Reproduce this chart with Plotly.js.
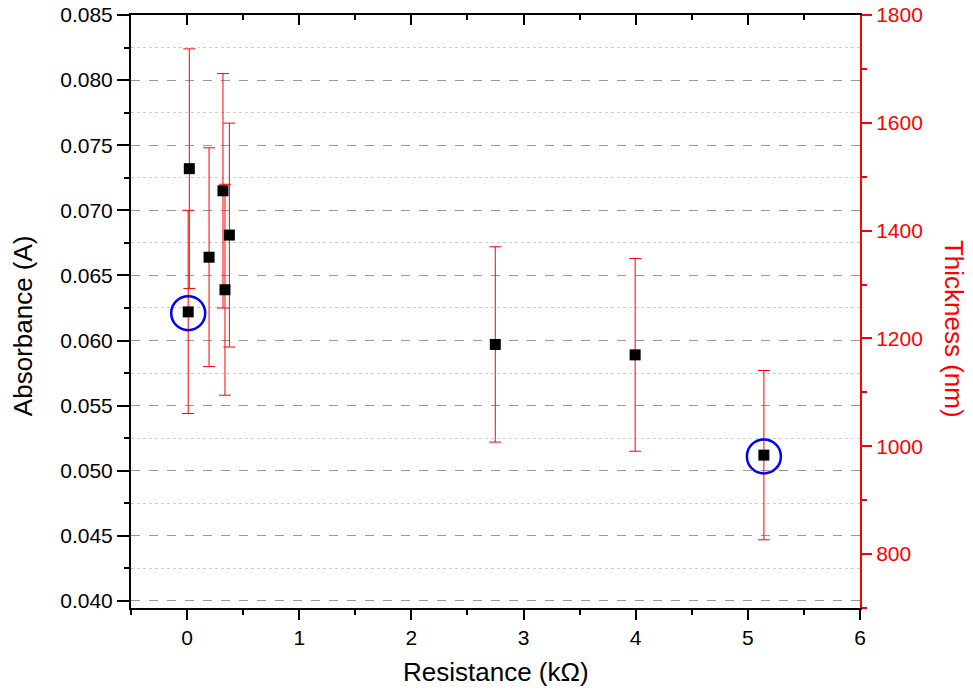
<!DOCTYPE html>
<html>
<head>
<meta charset="utf-8">
<script src="https://cdn.plot.ly/plotly-3.0.1.min.js"></script>
<style>html,body{margin:0;padding:0;background:#fff}#chart{width:973px;height:698px}</style>
</head>
<body>
<div id="chart"></div>
<script>
// Data
var resistance = [0.02, 0.01, 0.196, 0.32, 0.338, 0.377, 2.748, 3.995, 5.143];
var absorbance = [0.0732, 0.0622, 0.0664, 0.0715, 0.0639, 0.0681, 0.0597, 0.0589, 0.0512];
var absorbanceErr = [0.0092, 0.0078, 0.0084, 0.0090, 0.0081, 0.0086, 0.0075, 0.0074, 0.0065];
var highlightX = [0.01, 5.143];
var highlightY = [0.0621, 0.0511];
var xTitle = 'Resistance (kΩ)';
var yTitle = 'Absorbance (A)';
var y2Title = 'Thickness (nm)';

var FONT = 'Liberation Sans, Arial, sans-serif';

var traces = [
  {
    x: resistance, y: absorbance, type: 'scatter', mode: 'markers',
    marker: {symbol: 'square', size: 11, color: '#000'},
    error_y: {type: 'data', array: absorbanceErr, visible: true, color: '#ff0000', thickness: 1, width: 6},
    xaxis: 'x', yaxis: 'y', showlegend: false, hoverinfo: 'skip'
  },
  {
    x: highlightX, y: highlightY, type: 'scatter', mode: 'markers',
    marker: {symbol: 'circle-open', size: 34, color: '#0000ff', line: {width: 2.5, color: '#0000ff'}},
    xaxis: 'x', yaxis: 'y', showlegend: false, hoverinfo: 'skip'
  },
  // empty traces so the mirrored top axis and right axis are drawn
  {x: [], y: [], type: 'scatter', mode: 'markers', xaxis: 'x2', yaxis: 'y', showlegend: false, hoverinfo: 'skip'},
  {x: [], y: [], type: 'scatter', mode: 'markers', xaxis: 'x', yaxis: 'y2', showlegend: false, hoverinfo: 'skip'}
];

var layout = {
  width: 973, height: 698,
  margin: {l: 131, r: 113, t: 15, b: 90},
  paper_bgcolor: '#fff', plot_bgcolor: '#fff',
  font: {family: FONT, size: 21, color: '#000'},
  showlegend: false,
  xaxis: {
    range: [-0.5, 6], tick0: 0, dtick: 1,
    ticks: 'outside', ticklen: 10, tickwidth: 2, tickcolor: '#000',
    showline: true, linecolor: '#000', linewidth: 2,
    showgrid: false, zeroline: false,
    tickfont: {size: 21, family: FONT},
    minor: {dtick: 0.5, ticks: 'outside', ticklen: 5, tickwidth: 2, tickcolor: '#000', showgrid: false}
  },
  xaxis2: {
    overlaying: 'x', side: 'top', anchor: 'y',
    range: [-0.5, 6], tick0: 0, dtick: 1,
    ticks: 'inside', ticklen: 10, tickwidth: 2, tickcolor: '#000',
    showline: true, linecolor: '#000', linewidth: 2,
    showgrid: false, zeroline: false, showticklabels: false,
    minor: {dtick: 0.5, ticks: 'inside', ticklen: 5, tickwidth: 2, tickcolor: '#000', showgrid: false}
  },
  yaxis: {
    range: [0.03946, 0.085], tick0: 0.04, dtick: 0.005, tickformat: '.3f',
    ticks: 'outside', ticklen: 12, tickwidth: 2, tickcolor: '#000',
    showline: true, linecolor: '#000', linewidth: 2,
    showgrid: true, gridcolor: '#999', griddash: 'dash', gridwidth: 1,
    zeroline: false,
    tickfont: {size: 21, family: FONT},
    minor: {dtick: 0.0025, ticks: 'outside', ticklen: 5, tickwidth: 2, tickcolor: '#000',
            showgrid: true, gridcolor: '#ccc', griddash: 'dot', gridwidth: 1}
  },
  yaxis2: {
    overlaying: 'y', side: 'right', anchor: 'x',
    range: [700, 1800], tick0: 800, dtick: 200,
    ticks: 'outside', ticklen: 10, tickwidth: 2, tickcolor: '#ff0000',
    showline: true, linecolor: '#ff0000', linewidth: 2,
    showgrid: false, zeroline: false,
    tickfont: {size: 21, family: FONT, color: '#ff0000'},
    minor: {dtick: 100, ticks: 'outside', ticklen: 5, tickwidth: 2, tickcolor: '#ff0000', showgrid: false}
  },
  annotations: [
    {text: xTitle, xref: 'paper', yref: 'paper', x: 0.5, y: -0.108,
     xanchor: 'center', yanchor: 'middle', showarrow: false,
     font: {size: 26, family: FONT, color: '#000'}},
    {text: yTitle, xref: 'paper', yref: 'paper', x: -0.148, y: 0.4755,
     xanchor: 'center', yanchor: 'middle', textangle: -90, showarrow: false,
     font: {size: 26, family: FONT, color: '#000'}},
    {text: y2Title, xref: 'paper', yref: 'paper', x: 1.129, y: 0.4705,
     xanchor: 'center', yanchor: 'middle', textangle: 90, showarrow: false,
     font: {size: 26, family: FONT, color: '#ff0000'}}
  ]
};

Plotly.newPlot('chart', traces, layout, {displayModeBar: false, staticPlot: true});
</script>
</body>
</html>
